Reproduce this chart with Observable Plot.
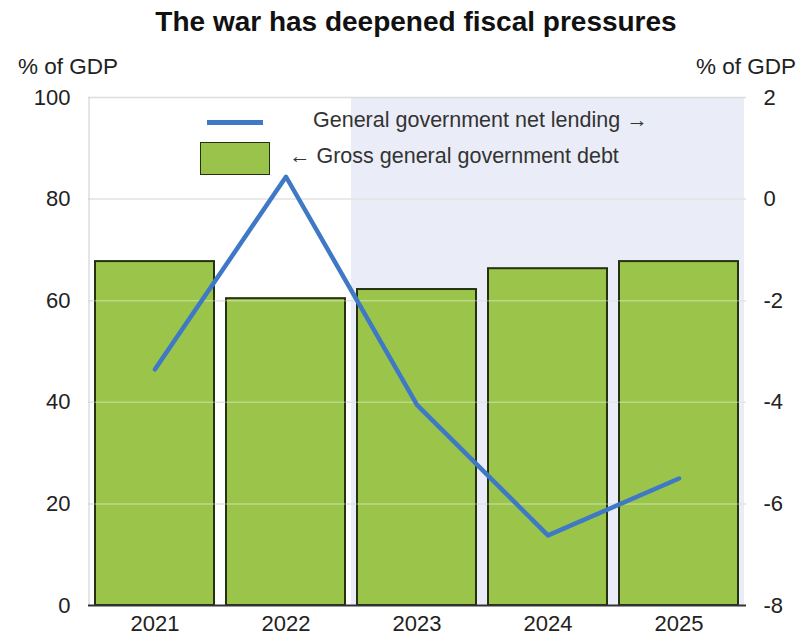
<!DOCTYPE html>
<html>
<head>
<meta charset="utf-8">
<script src="https://cdn.jsdelivr.net/npm/d3@7"></script>
<script src="https://cdn.jsdelivr.net/npm/@observablehq/plot@0.6"></script>
<style>
  html, body { margin: 0; padding: 0; background: #fff; }
  #wrap { position: relative; width: 804px; height: 638px; font-family: "Liberation Sans", Arial, sans-serif; color: #222; overflow: hidden; }
  #title { position: absolute; left: 14px; width: 804px; top: 6px; text-align: center; font-weight: bold; font-size: 28px; color: #111; }
  .unit { position: absolute; top: 54px; font-size: 22.5px; color: #222; }
  #unitL { left: 18px; }
  #unitR { right: 8px; }
  #chart { position: absolute; left: 0; top: 80px; }
  .leg { position: absolute; font-size: 21.5px; color: #333; white-space: nowrap; }
  .sw-line { position: absolute; left: 207px; top: 120px; width: 56px; height: 5px; background: #3f79c6; }
  .sw-box { position: absolute; left: 200px; top: 142px; width: 68px; height: 31px; background: #99c34b; border: 1.5px solid #243212; }
</style>
</head>
<body>
<div id="wrap">
  <div id="title">The war has deepened fiscal pressures</div>
  <div class="unit" id="unitL">% of GDP</div>
  <div class="unit" id="unitR">% of GDP</div>
  <div id="chart"></div>
  <div class="sw-line"></div>
  <div class="sw-box"></div>
  <div class="leg" style="left:313px; top:108px;">General government net lending →</div>
  <div class="leg" style="left:289px; top:144px;">← Gross general government debt</div>
</div>
<script>
const years = ["2021", "2022", "2023", "2024", "2025"];
const debt = [67.7, 60.4, 62.2, 66.3, 67.7];
const netLending = [-3.35, 0.44, -4.05, -6.62, -5.5];
const leftTicks = [0, 20, 40, 60, 80, 100];
const rightTicks = [-8, -6, -4, -2, 0, 2];
const projectionYears = ["2023", "2024", "2025"];

// right axis (-8..2) mapped onto left axis (0..100)
const toLeft = v => (v + 8) * 10;

const data = years.map((year, i) => ({year, debt: debt[i], net: netLending[i]}));

const chart = Plot.plot({
  width: 804,
  height: 558,
  marginLeft: 88,
  marginRight: 58,
  marginTop: 17,
  marginBottom: 33,
  style: {fontFamily: "Liberation Sans, Arial, sans-serif", fontSize: "22px", color: "#222", background: "transparent"},
  x: {domain: years, paddingInner: 0.09, paddingOuter: 0.05, tickSize: 0, tickPadding: 10, label: null},
  y: {domain: [0, 100], ticks: leftTicks, tickSize: 0, tickPadding: 18, label: null},
  marks: [
    Plot.barY(projectionYears, {x: d => d, y1: 0, y2: 100, fill: "#eaedf7", insetLeft: -6, insetRight: -6}),
    Plot.ruleY(leftTicks.filter(t => t > 0 && t < 100), {stroke: "#d9d9d9", strokeWidth: 1.5}),
    Plot.ruleY([100], {stroke: "#dcdcdc", strokeWidth: 1.5}),
    Plot.barY(data, {x: "year", y: "debt", fill: "#9ac44a", stroke: "#243212", strokeWidth: 2}),
    Plot.ruleY(leftTicks.filter(t => t > 0 && t < 100), {stroke: "#ffffff", strokeOpacity: 0.35, strokeWidth: 1.5}),
    Plot.ruleX([years[0]], {y1: 0, y2: 100, dx: -66, stroke: "#cccccc", strokeWidth: 1}),
    Plot.ruleY([0], {stroke: "#333", strokeWidth: 2}),
    Plot.line(data, {x: "year", y: d => toLeft(d.net), stroke: "#3f79c6", strokeWidth: 4.5}),
    Plot.text(rightTicks, {y: d => toLeft(d), text: d => String(d), frameAnchor: "right", textAnchor: "start", dx: 17, fontSize: 22, fill: "#222"})
  ]
});
document.getElementById("chart").appendChild(chart);
</script>
</body>
</html>
